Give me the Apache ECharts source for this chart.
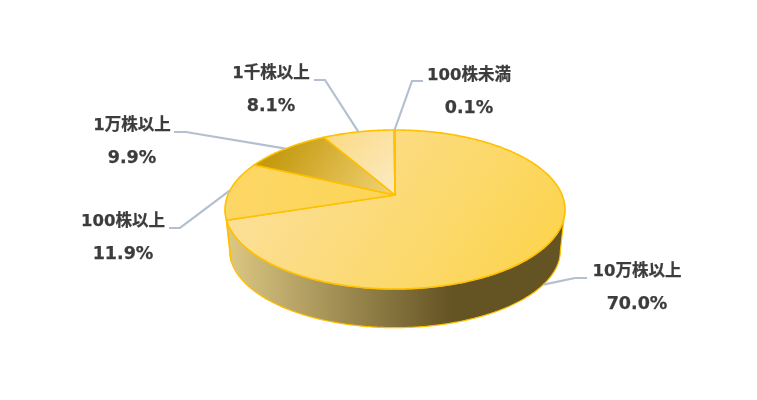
<!DOCTYPE html>
<html><head><meta charset="utf-8">
<style>html,body{margin:0;padding:0;background:#fff}#c{width:757px;height:400px}</style>
<script src="https://cdn.jsdelivr.net/npm/echarts@6/dist/echarts.min.js"></script>
</head><body><div id="c"></div>
<script>
const categories = ['10万株以上','100株以上','1万株以上','1千株以上','100株未満'];
const shares = [70.0, 11.9, 9.9, 8.1, 0.1];
// label centres and elbow positions
const labelCentres = [[637,272],[123,222],[132,126],[271,74],[469,76]];
const labelSides = [[575,278,587],[180,228,169],[186,132,174],[325,80,314],[412,81,423]];

const view = {cx:395, cy:195, a:167.1, b:76.86, k:0.1824};
const base = {cx:395, cy:236.5, a:162.6, b:74.55, k:0.1824};
const rimLine = '#FFC000', leader = '#B4C0D0', ink = '#3C3C3C';
const FONT = '"DejaVu Sans","Noto Sans CJK JP",sans-serif';
const total = shares.reduce((p,c)=>p+c,0);
const rangeOf = i => {
  let s = 0; for (let j=0;j<i;j++) s += shares[j];
  return [s/total*360, (s+shares[i])/total*360];
};
const proj = (v,deg) => {
  const t = deg*Math.PI/180, w = 1+v.k*Math.cos(t);
  return [v.cx+v.a*Math.sin(t)/w, v.cy-v.b*Math.cos(t)/w];
};
const arc = (v,a0,a1) => {
  const n = Math.max(2,Math.ceil(Math.abs(a1-a0)*1.5)), out=[];
  for (let i=0;i<=n;i++) out.push(proj(v,a0+(a1-a0)*i/n));
  return out;
};
const grad = (x,y,x2,y2,c0,c1) => new echarts.graphic.LinearGradient(x,y,x2,y2,[{offset:0,color:c0},{offset:1,color:c1}],true);
const faceFills = [
  grad(270,130,510,290,'#FBE09C','#FCD553'),
  grad(240,170,390,215,'#FDD765','#FCD458'),
  grad(285,135,385,195,'#C49A10','#F0D070'),
  grad(335,132,395,195,'#FBDB88','#FBEBC4'),
  grad(390,130,396,195,'#FBDB88','#FBEBC4')
];
const wallFill = grad(228,0,452,0,'#DCC783','#645323');
const wallRange = [100.5,259.5];
const rows = categories.map((c,i)=>[i,shares[i]]);

const option = {
  animation:false,
  backgroundColor:'#fff',
  series:[
    {type:'custom',coordinateSystem:'none',silent:true,z:1,data:rows,
      renderItem(p,api){
        const [a0,a1] = rangeOf(api.value(0));
        const s = Math.max(a0,wallRange[0]), e = Math.min(a1,wallRange[1]);
        if (e<=s) return {type:'group',children:[]};
        const pts = arc(view,s,e).concat(arc(base,e,s));
        return {type:'polygon',shape:{points:pts},style:{fill:wallFill,stroke:rimLine,lineWidth:1.2,lineJoin:'round'}};
      }},
    {type:'custom',coordinateSystem:'none',silent:true,z:2,data:rows,
      renderItem(p,api){
        const i = api.value(0);
        const [a0,a1] = rangeOf(i);
        const pts = [[view.cx,view.cy]].concat(arc(view,a0,a1));
        return {type:'polygon',shape:{points:pts},style:{fill:faceFills[i],stroke:rimLine,lineWidth:1.6,lineJoin:'round'}};
      }},
    {type:'custom',coordinateSystem:'none',silent:true,z:3,data:rows,
      renderItem(p,api){
        const i = api.value(0);
        const [a0,a1] = rangeOf(i);
        const mid = (a0+a1)/2;
        let end = proj(view,mid);
        if (mid>wallRange[0] && mid<wallRange[1]) end = [end[0]-3,end[1]+39];
        const [ex,ey,sx] = labelSides[i];
        const [lx,ly] = labelCentres[i];
        const txt = (text,y,size)=>({type:'text',style:{x:lx,y,text,font:'bold '+size+'px '+FONT,fill:ink,stroke:ink,lineWidth:0.25,align:'center',verticalAlign:'middle'}});
        return {type:'group',children:[
          {type:'polyline',shape:{points:[[sx,ey],[ex,ey],end]},style:{fill:null,stroke:leader,lineWidth:2.2}},
          txt(categories[i],ly,16.5),
          txt(shares[i].toFixed(1)+'%',ly+32,17.5)
        ]};
      }}
  ]
};
echarts.init(document.getElementById('c')).setOption(option);
</script></body></html>
